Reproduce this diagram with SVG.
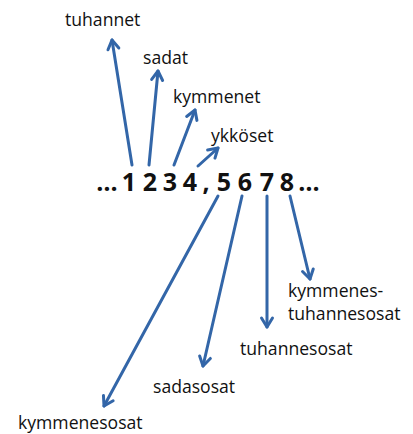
<svg xmlns="http://www.w3.org/2000/svg" width="413" height="434" viewBox="0 0 413 434">
<style>
.lbl{font-family:"Open Sans","Liberation Sans",sans-serif;font-size:17.6px;fill:#111}
.num{font-family:"Open Sans","Liberation Sans",sans-serif;font-size:25px;font-weight:bold;fill:#111;text-anchor:middle}
.arr{stroke:#3366a8;stroke-width:3;fill:none;stroke-linecap:round;marker-end:url(#head)}
</style>
<defs>
<marker id="head" markerUnits="userSpaceOnUse" viewBox="-12 -8 14 16" markerWidth="14" markerHeight="16" refX="0" refY="0" orient="auto" overflow="visible">
<path d="M -9 -5.5 L 0 0 L -9 5.5" fill="none" stroke="#3366a8" stroke-width="3" stroke-linecap="round" stroke-linejoin="round"/>
</marker>
</defs>
<rect width="413" height="434" fill="#fff"/>
<g id="number">
<text class="num" x="107" y="191">…</text>
<text class="num" x="129" y="191">1</text>
<text class="num" x="150" y="191">2</text>
<text class="num" x="170" y="191">3</text>
<text class="num" x="190" y="191">4</text>
<text class="num" x="206" y="191">,</text>
<text class="num" x="224" y="191">5</text>
<text class="num" x="245" y="191">6</text>
<text class="num" x="267" y="191">7</text>
<text class="num" x="287" y="191">8</text>
<text class="num" x="309" y="191">…</text>
</g>
<g id="n-tuhannet"><text class="lbl" x="65" y="26">tuhannet</text></g>
<g id="n-sadat"><text class="lbl" x="143" y="64">sadat</text></g>
<g id="n-kymmenet"><text class="lbl" x="173" y="103">kymmenet</text></g>
<g id="n-ykkoset"><text class="lbl" x="211" y="142">ykköset</text></g>
<g id="n-kymmenestuhannesosat"><text class="lbl" x="288" y="297">kymmenes-</text><text class="lbl" x="288" y="320">tuhannesosat</text></g>
<g id="n-tuhannesosat"><text class="lbl" x="240" y="355">tuhannesosat</text></g>
<g id="n-sadasosat"><text class="lbl" x="153" y="393">sadasosat</text></g>
<g id="n-kymmenesosat"><text class="lbl" x="18" y="429">kymmenesosat</text></g>
<g id="connectors">
<line class="arr" x1="132" y1="165" x2="112" y2="40"/>
<line class="arr" x1="149" y1="165" x2="158" y2="71"/>
<line class="arr" x1="174" y1="165" x2="195" y2="110"/>
<line class="arr" x1="198" y1="166" x2="218" y2="148"/>
<line class="arr" x1="218" y1="196" x2="104" y2="406"/>
<line class="arr" x1="242" y1="196" x2="203" y2="366"/>
<line class="arr" x1="267" y1="196" x2="267" y2="327"/>
<line class="arr" x1="290" y1="196" x2="310" y2="279"/>
</g>
</svg>
